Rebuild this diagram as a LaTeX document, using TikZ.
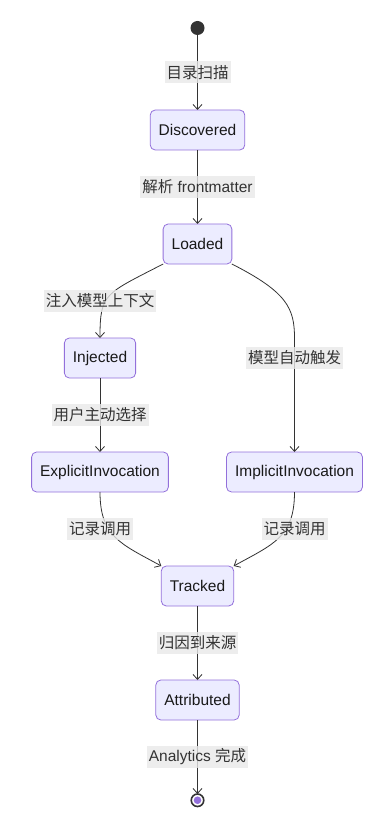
\documentclass[tikz,border=0pt]{standalone}
\usepackage{fontspec}
\setmainfont{Liberation Sans}
\newfontfamily\cjk{Noto Sans CJK SC}
\usetikzlibrary{arrows.meta,calc,positioning}
\definecolor{stateline}{HTML}{9370DB}
\definecolor{statefill}{HTML}{ECECFF}
\definecolor{edgeline}{HTML}{333333}
\definecolor{labelfill}{HTML}{E8E8E8}

\begin{document}
\begin{tikzpicture}[
    font=\fontsize{15.5pt}{18pt}\selectfont,
    state/.style={draw=stateline, fill=statefill, rounded corners=5pt, line width=0.8pt,
      minimum height=40pt, inner xsep=8.5pt, outer sep=0pt, text=black!90},
    elabel/.style={fill=labelfill, fill opacity=0.8, text opacity=1, text=edgeline,
      inner xsep=2pt, inner ysep=0pt, minimum height=22pt},
    startdot/.style={circle, fill=edgeline, minimum size=14pt, inner sep=0pt, outer sep=0pt},
    enddot/.style={circle, draw=edgeline, line width=1.6pt, fill=white, minimum size=12.5pt,
      inner sep=0pt, outer sep=0pt, path picture={\fill[stateline] (path picture bounding box.center) circle (3.8pt);}},
    arrow/.style={-{Straight Barb[length=5pt, width=9pt]}, line width=0.8pt, draw=edgeline}
  ]
    \useasboundingbox (0,0) rectangle (391pt,-818pt);

    \node[startdot] (start) at (197.5pt,-28pt) {};
    \node[state, below=75pt of start] (discovered) {Discovered};
    \node[state, below=74pt of discovered] (loaded) {Loaded};
    \node[state, below=74pt of loaded, xshift=-97.5pt] (injected) {Injected};
    \node[state, below=74pt of injected] (explicit) {ExplicitInvocation};
    \node[state, below=188pt of loaded, xshift=97pt] (implicit) {ImplicitInvocation};
    \node[state, yshift=-114pt] (tracked) at (loaded |- explicit) {Tracked};
    \node[state, below=74pt of tracked] (attributed) {Attributed};
    \node[enddot, below=74pt of attributed] (finish) {};

    \draw[arrow] (start) -- node[elabel] (lblscan) {\cjk 目录扫描} (discovered);
    \draw[arrow] (discovered) -- node[elabel] (lblparse) {{\cjk 解析} frontmatter} (loaded);
    \draw[arrow] (loaded.south west) .. controls +(-58pt,-30pt) and +(0,45pt) .. (injected.north);
    \draw[arrow] (loaded.south east) .. controls +(55pt,-28pt) and +(0,30pt) .. (implicit.north |- injected.north) -- (implicit.north);
    \draw[arrow] (injected) -- node[elabel] (lblselect) {\cjk 用户主动选择} (explicit);
    \draw[arrow] (explicit.south) .. controls +(0,-45pt) and +(-40pt,22pt) .. (tracked.north west);
    \draw[arrow] (implicit.south) .. controls +(0,-45pt) and +(40pt,22pt) .. (tracked.north east);
    \draw[arrow] (tracked) -- node[elabel] (lblsource) {\cjk 归因到来源} (attributed);
    \draw[arrow] (attributed) -- node[elabel] (lbldone) {Analytics {\cjk 完成}} (finish);

    \node[elabel, above=26pt of injected] (lblinject) {\cjk 注入模型上下文};
    \node[elabel] (lblauto) at (injected -| implicit) {\cjk 模型自动触发};
    \node[elabel, below=26pt of explicit] (lblrecleft) {\cjk 记录调用};
    \node[elabel, below=26pt of implicit] (lblrecright) {\cjk 记录调用};
  \end{tikzpicture}
\end{document}
